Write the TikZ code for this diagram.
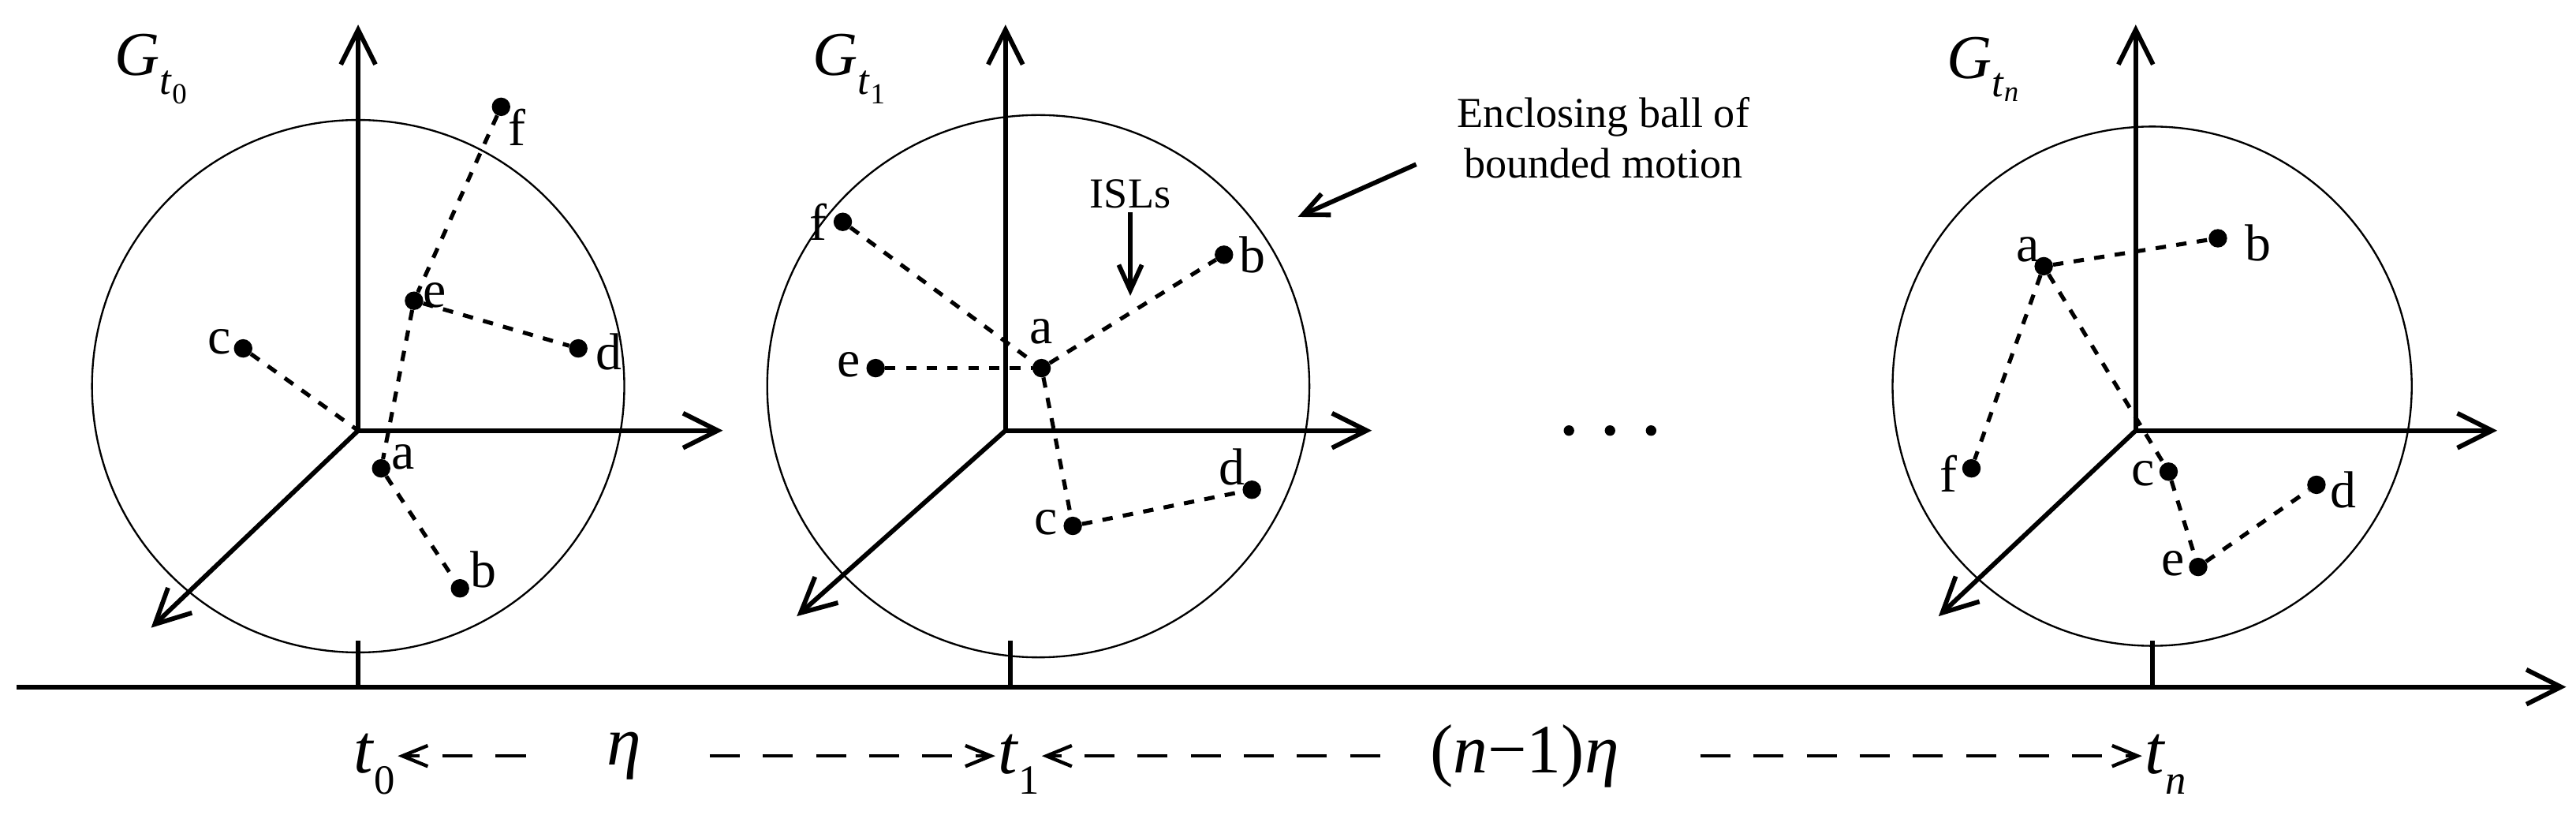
\documentclass[tikz,border=0pt]{standalone}
\usepackage{fontspec}
\setmainfont{Liberation Serif}
\usetikzlibrary{arrows.meta}
\newcommand{\sbx}[1]{\raisebox{-0.3em}{\fontsize{36}{40}\selectfont #1}}
\begin{document}
\begin{tikzpicture}[x=0.05cm,y=-0.05cm,
 ball/.style={line width=1.6pt},
 ax/.style={line width=4pt,-{Straight Barb[length=30pt,width=30pt,line width=4pt]}},
 isl/.style={line width=3.5pt,dash pattern=on 9pt off 9pt},
 sat/.style={circle,fill,inner sep=0pt,minimum size=16pt},
 lab/.style={font=\fontsize{45}{50}\selectfont},
 big/.style={font=\fontsize{60}{66}\selectfont},
 gl/.style={font=\fontsize{54}{60}\selectfont},
 note/.style={font=\fontsize{37}{44}\selectfont},
 darr/.style={line width=3pt,dash pattern=on 26pt off 20pt,-{Straight Barb[length=22pt,width=18pt,line width=3pt]}}]
\useasboundingbox (0,0) rectangle (1568,505);
% panel 1
\draw[ball] (218,235) circle[radius=162];
\coordinate (o1) at (218,262);
\coordinate (u1) at (218,15); \coordinate (r1) at (440,262); \coordinate (d1) at (92,382);
\draw[ax] (o1)--(u1); \draw[ax] (o1)--(r1); \draw[ax] (o1)--(d1);
\node[sat] (f1) at (305,65) {}; \node[sat] (e1) at (252,183) {};
\node[sat] (c1) at (148,212) {}; \node[sat] (dd1) at (352,212) {};
\node[sat] (a1) at (232,285) {}; \node[sat] (b1) at (280,358) {};
\draw[isl] (f1)--(e1); \draw[isl] (e1)--(dd1); \draw[isl] (e1)--(a1);
\draw[isl] (c1)--(o1); \draw[isl] (a1)--(b1);
\node[lab,anchor=north west] at (307,64) {f};
\node[lab,anchor=south west] at (255,190) {e};
\node[lab,anchor=east] at (143,208) {c};
\node[lab,anchor=west] at (360,214) {d};
\node[lab,anchor=north west] at (236,268) {a};
\node[lab,anchor=north west] at (284,333) {b};
\node[gl] at (92,42) {\textit{G}\sbx{\textit{t}\textsubscript{0}}};
% panel 2
\draw[ball] (632,235) circle[radius=165];
\coordinate (o2) at (612,262);
\coordinate (u2) at (612,15); \coordinate (r2) at (835,262); \coordinate (d2) at (485,375);
\draw[ax] (o2)--(u2); \draw[ax] (o2)--(r2); \draw[ax] (o2)--(d2);
\node[sat] (f2) at (513,135) {}; \node[sat] (e2) at (533,224) {};
\node[sat] (a2) at (634,224) {}; \node[sat] (b2) at (745,155) {};
\node[sat] (c2) at (653,320) {}; \node[sat] (dd2) at (762,298) {};
\draw[isl] (f2)--(a2); \draw[isl] (e2)--(a2); \draw[isl] (a2)--(b2);
\draw[isl] (a2)--(c2); \draw[isl] (c2)--(dd2);
\node[lab,anchor=south] at (634,212) {a};
\node[lab,anchor=east] at (506,135) {f};
\node[lab,anchor=east] at (526,222) {e};
\node[lab,anchor=west] at (752,155) {b};
\node[lab,anchor=east] at (646,318) {c};
\node[lab,anchor=south] at (750,298) {d};
\node[gl] at (517,42) {\textit{G}\sbx{\textit{t}\textsubscript{1}}};
\node[note] (isl) at (688,118) {ISLs};
\coordinate (islt) at (688,180);
\draw[line width=4pt,-{Straight Barb[length=22pt,width=20pt,line width=4pt]}] (isl.south)--(islt);
\node[note,align=center] (enc) at (976,84) {Enclosing ball of\\bounded motion};
\coordinate (enct) at (790,132);
\draw[line width=4pt,-{Straight Barb[length=22pt,width=20pt,line width=4pt]}] (862,100)--(enct);
\foreach \x in {955,980,1005} \fill (\x,262) circle[radius=3.2];
% panel 3
\draw[ball] (1310,235) circle[radius=158];
\coordinate (o3) at (1300,262);
\coordinate (u3) at (1300,15); \coordinate (r3) at (1520,262); \coordinate (d3) at (1180,375);
\draw[ax] (o3)--(u3); \draw[ax] (o3)--(r3); \draw[ax] (o3)--(d3);
\node[sat] (a3) at (1244,162) {}; \node[sat] (b3) at (1350,145) {};
\node[sat] (f3) at (1200,285) {}; \node[sat] (c3) at (1320,287) {};
\node[sat] (e3) at (1338,345) {}; \node[sat] (dd3) at (1410,295) {};
\draw[isl] (a3)--(b3); \draw[isl] (a3)--(f3); \draw[isl] (a3)--(c3);
\draw[isl] (c3)--(e3); \draw[isl] (e3)--(dd3);
\node[lab,anchor=south east] at (1244,162) {a};
\node[lab,anchor=west] at (1364,148) {b};
\node[lab,anchor=east] at (1194,288) {f};
\node[lab,anchor=east] at (1314,288) {c};
\node[lab,anchor=east] at (1332,343) {e};
\node[lab,anchor=west] at (1416,298) {d};
\node[gl] at (1207,42) {\textit{G}\sbx{\textit{t}\textsubscript{\textit{n}}}};
% timeline
\coordinate (ts) at (10,418); \coordinate (te) at (1562,418);
\draw[line width=4pt,-{Straight Barb[length=30pt,width=30pt,line width=4pt]}] (ts)--(te);
\foreach \x in {218,615,1310} \draw[line width=4pt] (\x,390)--(\x,418);
\node[big,inner sep=2pt] (t0) at (228,465) {\textit{t}\sbx{0}};
\node[big] (eta) at (380,460) {\textit{η}};
\node[big,inner sep=2pt] (t1) at (620,465) {\textit{t}\sbx{1}};
\node[big] (neta) at (928,460) {(\textit{n}−1)\textit{η}};
\node[big,inner sep=2pt] (tn) at (1318,465) {\textit{t}\sbx{\textit{n}}};
\draw[darr] (320,460)--(t0.east|-0,460);
\draw[darr] (432,460)--(t1.west|-0,460);
\draw[darr] (840,460)--(t1.east|-0,460);
\draw[darr] (1035,460)--(tn.west|-0,460);
\end{tikzpicture}
\end{document}
